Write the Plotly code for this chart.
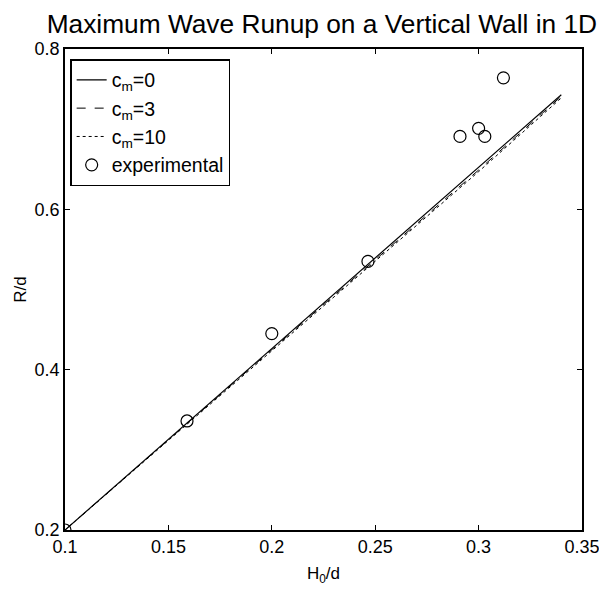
import plotly.graph_objects as go

# Data
x_model = [0.10, 0.15, 0.20, 0.25, 0.30, 0.34]
y_cm0 = [0.200, 0.313, 0.426, 0.539, 0.652, 0.743]
y_cm3 = [0.200, 0.313, 0.425, 0.537, 0.649, 0.741]
y_cm10 = [0.200, 0.312, 0.424, 0.536, 0.647, 0.739]

x_exp = [0.100, 0.159, 0.200, 0.2465, 0.291, 0.300, 0.303, 0.312]
y_exp = [0.200, 0.336, 0.445, 0.535, 0.691, 0.701, 0.691, 0.764]

x_ticks = [0.1, 0.15, 0.2, 0.25, 0.3, 0.35]
y_ticks = [0.2, 0.4, 0.6, 0.8]

FONT = "Liberation Sans, Arial, sans-serif"

fig = go.Figure()
fig.add_trace(go.Scatter(x=x_model, y=y_cm0, mode="lines", name="c<sub>m</sub>=0",
                         line=dict(color="black", width=1.2, dash="solid")))
fig.add_trace(go.Scatter(x=x_model, y=y_cm3, mode="lines", name="c<sub>m</sub>=3",
                         line=dict(color="black", width=1, dash="dash")))
fig.add_trace(go.Scatter(x=x_model, y=y_cm10, mode="lines", name="c<sub>m</sub>=10",
                         line=dict(color="black", width=1, dash="dot")))
fig.add_trace(go.Scatter(x=x_exp, y=y_exp, mode="markers", name="experimental",
                         marker=dict(symbol="circle-open", size=12,
                                     color="black", line=dict(width=1.2, color="black"))))

axis_common = dict(showgrid=False, zeroline=False, showline=True, linecolor="black",
                   linewidth=1.5, mirror="ticks", ticks="inside", ticklen=5,
                   tickcolor="black", automargin=False,
                   tickfont=dict(family=FONT, size=18, color="black"))

# the page body adds an 8px offset, so the figure is sized 8px smaller on each side
fig.update_layout(
    width=599, height=584,
    margin=dict(l=57, r=25, t=41, b=62),
    paper_bgcolor="white", plot_bgcolor="white",
    title=dict(text="Maximum Wave Runup on a Vertical Wall in 1D",
               font=dict(family=FONT, size=26.3, color="black"),
               x=0.524, xanchor="center", y=0.973, yanchor="middle"),
    xaxis=dict(range=[0.1, 0.35], tickvals=x_ticks,
               ticktext=[f"{v:g}" for v in x_ticks],
               title=dict(text="H<sub>0</sub>/d", font=dict(family=FONT, size=17, color="black"),
                          standoff=11),
               **axis_common),
    yaxis=dict(range=[0.2, 0.8], tickvals=y_ticks,
               ticktext=[f"{v:g}" for v in y_ticks],
               title=dict(text="R/d", font=dict(family=FONT, size=17, color="black"),
                          standoff=4),
               **axis_common),
    legend=dict(x=0.01, y=0.979, xanchor="left", yanchor="top",
                bgcolor="white", bordercolor="black", borderwidth=1.5,
                font=dict(family=FONT, size=19.5, color="black"),
                tracegroupgap=0, itemwidth=30),
    showlegend=True,
)

fig.write_html("out.html")
